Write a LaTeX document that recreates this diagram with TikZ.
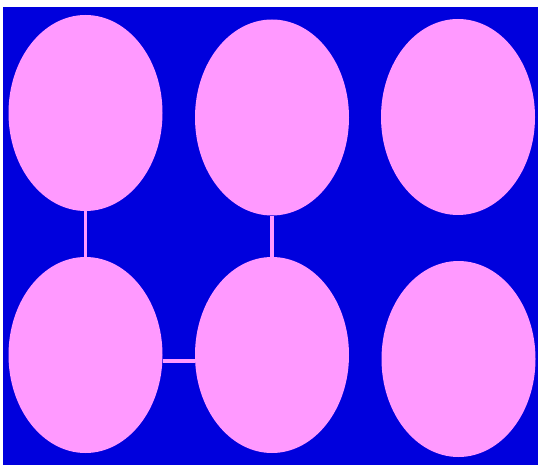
\documentclass[tikz,border=0pt]{standalone}
\usetikzlibrary{shapes.geometric}
\definecolor{bg}{RGB}{0,0,221}
\definecolor{pk}{RGB}{255,153,255}
\begin{document}
\begin{tikzpicture}[x=1pt,y=-1pt,
  blob/.style={ellipse,fill=pk,draw=none,inner sep=0pt,minimum width=154pt,minimum height=196pt},
  link/.style={draw=pk,line width=3.7pt}]
\useasboundingbox (0,0) rectangle (538,465);
\fill[bg] (3,7) rectangle (538,465);
\node[blob] (tl) at (85.5,113) {};
\node[blob] (tm) at (272,117.5) {};
\node[blob] (tr) at (458,117) {};
\node[blob] (bl) at (85.5,355) {};
\node[blob] (bm) at (272,355) {};
\node[blob] (br) at (458.5,359) {};
\draw[link] (tl.south) -- (bl.north);
\draw[link] (tm.south) -- (bm.north);
\draw[link] ([yshift=-6pt]bl.east) -- ([yshift=-6pt]bm.west);
\end{tikzpicture}
\end{document}
